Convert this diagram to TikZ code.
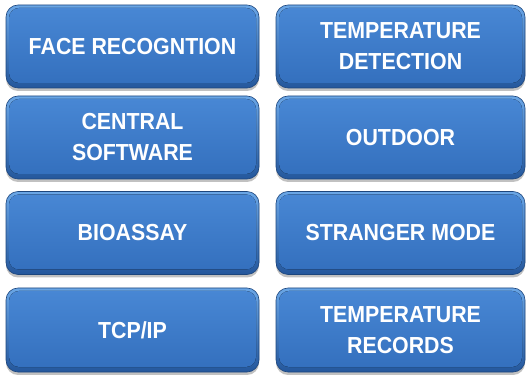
\documentclass[tikz,border=0pt]{standalone}
\usepackage{fontspec}
\setmainfont{Liberation Sans}
\newfontfamily\tilefont[FakeStretch=0.92]{Liberation Sans}
\usetikzlibrary{shadows,fit}
\definecolor{rimtop}{HTML}{6AA6E6}
\definecolor{rimbot}{HTML}{24579C}
\definecolor{facetop}{HTML}{4887D4}
\definecolor{facebot}{HTML}{3470BE}
\tikzset{
  x=1pt,y=1pt,
  tile/.style={rounded corners=12pt, top color=rimtop, bottom color=rimbot,
    draw=rimbot!80!black, line width=0.6pt,
    drop shadow={shadow xshift=0pt, shadow yshift=-3pt, opacity=0.35, fill=black!70},
    inner sep=0pt, outer sep=0pt},
  face/.style={rounded corners=10pt, top color=facetop, bottom color=facebot, draw=none},
  label/.style={text=white, font=\tilefont\bfseries\fontsize{23.2}{31}\selectfont, align=center}
}
\newcommand{\tilebox}[6]{%
  % #1 name, #2 cx, #3 cy, #4 width, #5 height, #6 text
  \node[tile, minimum width=#4pt, minimum height=#5pt] (#1) at (#2,#3) {};
  \fill[face] ([xshift=3pt,yshift=5pt]#1.south west) rectangle ([xshift=-3pt,yshift=-3pt]#1.north east);
  \node[label] (#1t) at (#1.center) {#6};
}
\begin{document}
\begin{tikzpicture}
\useasboundingbox (0,0) rectangle (526,374);
\tilebox{a}{132.5}{327.5}{253}{83}{FACE RECOGNTION}
\tilebox{b}{400.5}{327.5}{249}{83}{TEMPERATURE\\DETECTION}
\tilebox{c}{132.5}{236.5}{253}{83}{CENTRAL\\SOFTWARE}
\tilebox{d}{400.5}{236.5}{249}{83}{OUTDOOR}
\tilebox{e}{132.5}{141}{253}{83}{BIOASSAY}
\tilebox{f}{400.5}{141}{249}{83}{STRANGER MODE}
\tilebox{g}{132.5}{44}{253}{84}{TCP/IP}
\tilebox{h}{400.5}{44}{249}{84}{TEMPERATURE\\RECORDS}
\end{tikzpicture}
\end{document}
